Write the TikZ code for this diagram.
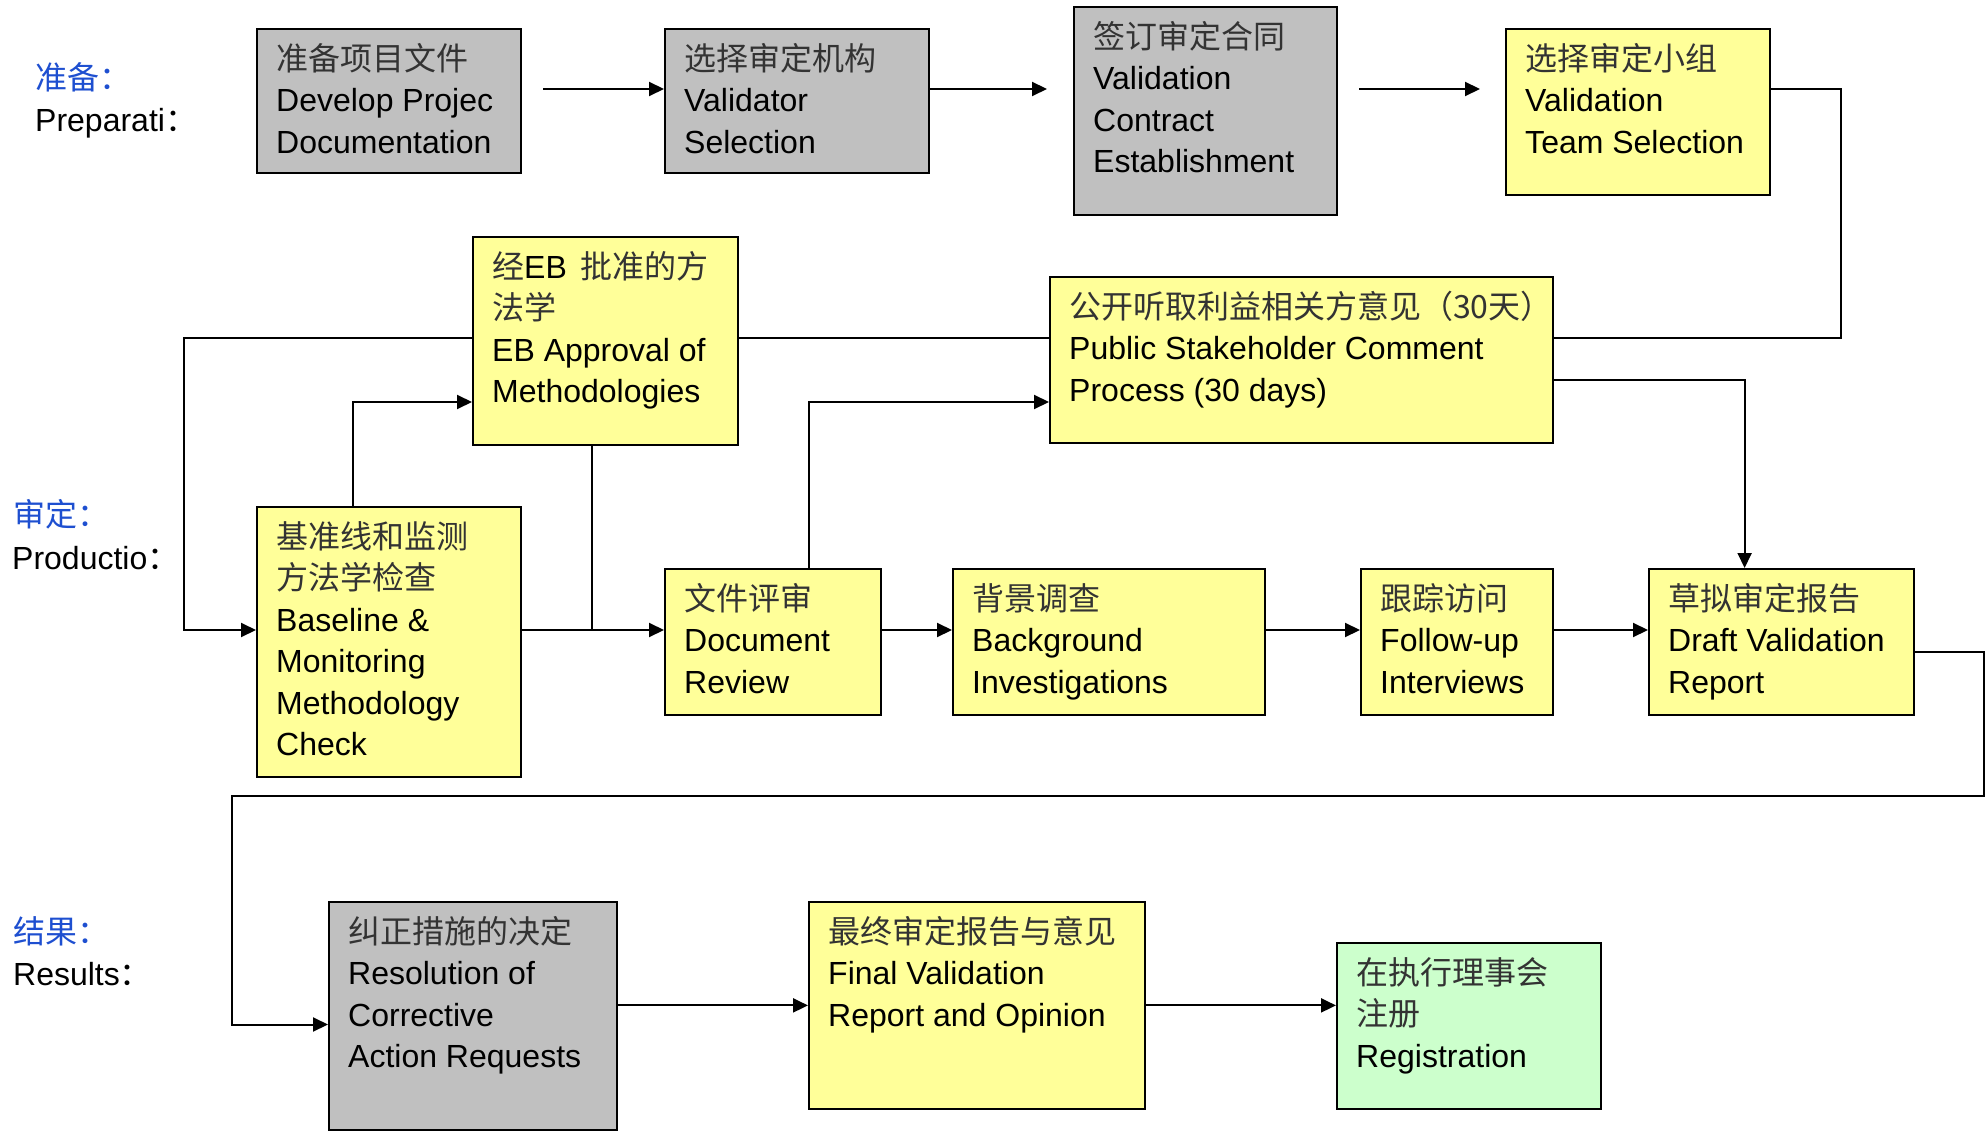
\documentclass[tikz,border=0pt]{standalone}
\usepackage{fontspec}
\setmainfont{Liberation Sans}
\newfontfamily\cjk{Noto Sans CJK SC}
\usetikzlibrary{arrows.meta}
\definecolor{grayf}{HTML}{C0C0C0}
\definecolor{yellowf}{HTML}{FFFF99}
\definecolor{greenf}{HTML}{CCFFCC}
\definecolor{labblue}{HTML}{1E4FD0}
\newcommand\zh[1]{{\cjk\color{black!80}#1}}
\newcommand\zl[1]{{\cjk #1}}
\newcommand\fl{\rule{0pt}{31pt}}
\begin{document}
\begin{tikzpicture}[x=1pt,y=-1pt,
 box/.style={draw=black, line width=2pt, anchor=north west, inner sep=0pt},
 txt/.style={anchor=north west, inner sep=0pt, align=left, font=\fontsize{32pt}{41.5pt}\selectfont},
 lab/.style={anchor=base west, inner sep=0pt, font=\fontsize{32pt}{42pt}\selectfont},
 conn/.style={line width=2pt, draw=black},
 arr/.style={conn, -{Triangle[length=15pt,width=14pt]}},
]
\useasboundingbox (0,0) rectangle (1988,1131);

% labels
\node[lab, text=labblue] (l1) at (35,90) {\zl{准备：}};
\node[lab] (l2) at (35,132) {Preparati\zl{：}};
\node[lab, text=labblue] (l3) at (13,526) {\zl{审定：}};
\node[lab] (l4) at (12,569) {Productio\zl{：}};
\node[lab, text=labblue] (l5) at (13,943) {\zl{结果：}};
\node[lab] (l6) at (13,985) {Results\zl{：}};

% boxes
\node[box, fill=grayf, minimum width=264pt, minimum height=144pt] (b1) at (256,28) {};
\node[txt] (t1) at ([shift={(20,11)}]b1.north west) {\fl\zh{准备项目文件}\\Develop Projec\\Documentation};

\node[box, fill=grayf, minimum width=264pt, minimum height=144pt] (b2) at (664,28) {};
\node[txt] (t2) at ([shift={(20,11)}]b2.north west) {\fl\zh{选择审定机构}\\Validator\\Selection};

\node[box, fill=grayf, minimum width=263pt, minimum height=208pt] (b3) at (1073,6) {};
\node[txt] (t3) at ([shift={(20,11)}]b3.north west) {\fl\zh{签订审定合同}\\Validation\\Contract\\Establishment};

\node[box, fill=yellowf, minimum width=264pt, minimum height=166pt] (b4) at (1505,28) {};
\node[txt] (t4) at ([shift={(20,11)}]b4.north west) {\fl\zh{选择审定小组}\\Validation\\Team Selection};

\node[box, fill=yellowf, minimum width=265pt, minimum height=208pt] (eb) at (472,236) {};
\node[txt] (teb) at ([shift={(20,11)}]eb.north west) {\fl\zh{经}EB\hspace{14pt}\zh{批准的方}\\\zh{法学}\\EB Approval of\\Methodologies};

\node[box, fill=yellowf, minimum width=503pt, minimum height=166pt] (pub) at (1049,276) {};
\node[txt] (tpub) at ([shift={(20,11)}]pub.north west) {\fl\zh{公开听取利益相关方意见（30天）}\\Public Stakeholder Comment\\Process (30 days)};

\node[box, fill=yellowf, minimum width=264pt, minimum height=270pt] (base) at (256,506) {};
\node[txt] (tbase) at ([shift={(20,11)}]base.north west) {\fl\zh{基准线和监测}\\\zh{方法学检查}\\Baseline \&\\Monitoring\\Methodology\\Check};

\node[box, fill=yellowf, minimum width=216pt, minimum height=146pt] (doc) at (664,568) {};
\node[txt] (tdoc) at ([shift={(20,11)}]doc.north west) {\fl\zh{文件评审}\\Document\\Review};

\node[box, fill=yellowf, minimum width=312pt, minimum height=146pt] (bg) at (952,568) {};
\node[txt] (tbg) at ([shift={(20,11)}]bg.north west) {\fl\zh{背景调查}\\Background\\Investigations};

\node[box, fill=yellowf, minimum width=192pt, minimum height=146pt] (fu) at (1360,568) {};
\node[txt] (tfu) at ([shift={(20,11)}]fu.north west) {\fl\zh{跟踪访问}\\Follow-up\\Interviews};

\node[box, fill=yellowf, minimum width=265pt, minimum height=146pt] (dr) at (1648,568) {};
\node[txt] (tdr) at ([shift={(20,11)}]dr.north west) {\fl\zh{草拟审定报告}\\Draft Validation\\Report};

\node[box, fill=grayf, minimum width=288pt, minimum height=228pt] (res) at (328,901) {};
\node[txt] (tres) at ([shift={(20,11)}]res.north west) {\fl\zh{纠正措施的决定}\\Resolution of\\Corrective\\Action Requests};

\node[box, fill=yellowf, minimum width=336pt, minimum height=207pt] (fin) at (808,901) {};
\node[txt] (tfin) at ([shift={(20,11)}]fin.north west) {\fl\zh{最终审定报告与意见}\\Final Validation\\Report and Opinion};

\node[box, fill=greenf, minimum width=264pt, minimum height=166pt] (reg) at (1336,942) {};
\node[txt] (treg) at ([shift={(20,11)}]reg.north west) {\fl\zh{在执行理事会}\\\zh{注册}\\Registration};

% top row arrows
\coordinate (a1s) at (543,89);
\draw[arr] (a1s) -- (b2.west |- a1s);
\coordinate (a2e) at (1047,89);
\draw[arr] (b2.east |- a2e) -- (a2e);
\coordinate (a3s) at (1359,89);
\coordinate (a3e) at (1480,89);
\draw[arr] (a3s) -- (a3e);

% feedback loop from team selection
\coordinate (f1) at (1841,89);
\coordinate (f2) at (1841,338.5);
\coordinate (f3) at (184,338.5);
\coordinate (f4) at (184,630);
\draw[conn] (b4.east |- f1) -- (f1) -- (f2) -- (pub.east |- f2);
\draw[conn] (pub.west |- f2) -- (eb.east |- f2);
\draw[arr] (eb.west |- f2) -- (f3) -- (f4) -- (base.west |- f4);

% baseline -> EB
\coordinate (g1) at (352.5,402);
\draw[arr] (base.north -| g1) -- (g1) -- (eb.west |- g1);
% EB -> junction
\coordinate (g2) at (592,630);
\draw[conn] (eb.south -| g2) -- (g2);
% baseline -> document review
\draw[arr] (base.east |- f4) -- (doc.west |- f4);
% document review -> public
\coordinate (g3) at (809,402);
\draw[arr] (doc.north -| g3) -- (g3) -- (pub.west |- g3);
% middle row
\draw[arr] (doc.east |- f4) -- (bg.west |- f4);
\draw[arr] (bg.east |- f4) -- (fu.west |- f4);
\draw[arr] (fu.east |- f4) -- (dr.west |- f4);
% public -> draft
\coordinate (g4) at (1744.6,380.4);
\draw[arr] (pub.east |- g4) -- (g4) -- (dr.north -| g4);
% draft -> resolution
\coordinate (h1) at (1984,651.7);
\coordinate (h2) at (1984,796);
\coordinate (h3) at (232,796);
\coordinate (h4) at (232,1024.5);
\draw[arr] (dr.east |- h1) -- (h1) -- (h2) -- (h3) -- (h4) -- (res.west |- h4);
% bottom row
\coordinate (k) at (0,1005.4);
\draw[arr] (res.east |- k) -- (fin.west |- k);
\draw[arr] (fin.east |- k) -- (reg.west |- k);
\end{tikzpicture}
\end{document}
